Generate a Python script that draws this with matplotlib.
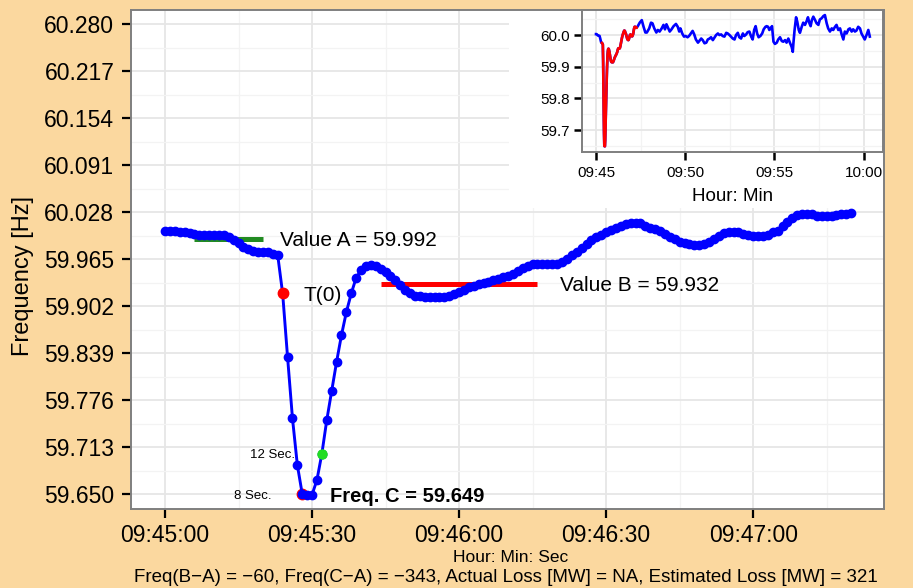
import matplotlib
matplotlib.use("Agg")
import matplotlib.pyplot as plt
from matplotlib.ticker import MultipleLocator, FixedLocator

plt.rcParams['font.family'] = ['Liberation Sans', 'DejaVu Sans']

BG = '#FBD89F'

# frequency, one sample per second starting at 09:45:00
freq = [
    60.003, 60.003, 60.003, 60.002, 60.001, 60.000, 59.999, 59.998, 59.998, 59.998,
    59.998, 59.998, 59.997, 59.994, 59.990, 59.986, 59.981, 59.978, 59.976, 59.975,
    59.975, 59.974, 59.972, 59.970, 59.919, 59.834, 59.752, 59.689, 59.650, 59.649,
    59.649, 59.669, 59.704, 59.749, 59.788, 59.827, 59.863, 59.894, 59.919, 59.940,
    59.950, 59.956, 59.957, 59.956, 59.952, 59.948, 59.942, 59.937, 59.930, 59.923,
    59.919, 59.916, 59.915, 59.914, 59.914, 59.914, 59.914, 59.914, 59.916, 59.918,
    59.921, 59.923, 59.927, 59.929, 59.931, 59.933, 59.935, 59.937, 59.938, 59.941,
    59.943, 59.945, 59.949, 59.953, 59.956, 59.958, 59.958, 59.958, 59.958, 59.958,
    59.958, 59.961, 59.965, 59.970, 59.975, 59.980, 59.985, 59.990, 59.994, 59.998,
    60.001, 60.004, 60.007, 60.010, 60.012, 60.014, 60.014, 60.013, 60.010, 60.007,
    60.005, 60.003, 59.999, 59.995, 59.992, 59.988, 59.986, 59.985, 59.984, 59.984,
    59.985, 59.988, 59.992, 59.996, 60.000, 60.001, 60.002, 60.001, 59.999, 59.997,
    59.996, 59.996, 59.996, 59.998, 60.001, 60.003, 60.009, 60.015, 60.020, 60.024,
    60.026, 60.026, 60.026, 60.023, 60.023, 60.023, 60.023, 60.024, 60.025, 60.026,
    60.027,
]
sec = list(range(len(freq)))

# rest of the record (only in the inset), seconds after 09:45:00
tail_sec = [
    147, 154, 160, 166, 171, 179, 185, 190, 196, 203,
    208, 214, 221, 227, 232, 237, 243, 248, 254, 261,
    269, 275, 280, 284, 290, 296, 301, 308, 313, 319,
    325, 330, 336, 343, 348, 354, 359, 365, 371, 376,
    382, 387, 393, 399, 404, 410, 415, 421, 426, 432,
    438, 443, 449, 454, 460, 466, 471, 477, 482, 488,
    494, 499, 505, 510, 516, 522, 527, 532, 537, 542,
    547, 553, 559, 564, 570, 574, 579, 583, 588, 592,
    597, 602, 608, 613, 619, 625, 630, 636, 641, 647,
    653, 658, 662, 664, 668, 673, 677, 682, 686, 692,
    697, 703, 709, 713, 718, 722, 726, 731, 737, 742,
    748, 753, 759, 765, 770, 776, 781, 787, 793, 798,
    804, 809, 815, 821, 826, 832, 837, 843, 849, 854,
    860, 865, 871, 876, 882, 888, 893, 899, 904, 910,
    916, 921,
]
tail_freq = [
    60.039, 60.047, 60.026, 60.008, 60.008, 60.021, 60.039, 60.037, 60.021, 60.008,
    60.016, 60.011, 60.021, 60.032, 60.018, 60.034, 60.021, 60.011, 60.018, 60.028,
    60.035, 60.026, 60.011, 60.021, 60.005, 59.995, 59.997, 59.993, 59.997, 60.005,
    60.013, 60.003, 59.986, 59.976, 59.982, 59.989, 59.984, 59.974, 59.976, 59.986,
    59.989, 59.993, 59.984, 59.993, 60.000, 60.005, 60.000, 60.002, 59.997, 59.995,
    60.007, 60.005, 60.000, 59.995, 59.989, 59.986, 60.000, 60.007, 59.993, 59.989,
    60.005, 59.997, 60.002, 60.009, 60.011, 59.995, 59.986, 60.016, 60.028, 60.005,
    59.993, 59.997, 60.005, 60.018, 60.026, 60.028, 60.026, 60.016, 60.021, 60.028,
    59.979, 59.972, 59.976, 59.986, 59.993, 59.981, 59.979, 59.984, 59.976, 59.989,
    59.974, 59.963, 59.947, 59.974, 60.016, 60.056, 60.042, 60.016, 60.007, 60.026,
    60.039, 60.032, 60.045, 60.056, 60.037, 60.028, 60.047, 60.058, 60.047, 60.037,
    60.032, 60.049, 60.053, 60.060, 60.063, 60.037, 60.021, 60.011, 60.021, 60.016,
    60.026, 60.032, 60.016, 60.021, 60.003, 59.986, 60.011, 60.005, 60.018, 60.021,
    60.011, 60.018, 60.011, 60.014, 60.026, 60.021, 60.005, 59.995, 59.986, 60.000,
    60.016, 59.995,
]

value_a = 59.992
value_a_span = (6, 20)
value_b = 59.932
value_b_span = (44, 76)
t0_sec = 24
sec8 = 28
sec12 = 32
freq_c = 59.649
red_span = (20, 136)   # part drawn red in the inset

freq_ticks = [59.650, 59.713, 59.776, 59.839, 59.902, 59.965,
              60.028, 60.091, 60.154, 60.217, 60.280]
time_ticks = [0, 30, 60, 90, 120]
time_labels = ['09:45:00', '09:45:30', '09:46:00', '09:46:30', '09:47:00']
inset_freq_ticks = [59.7, 59.8, 59.9, 60.0]
inset_min_ticks = [0, 5, 10, 15]
inset_min_labels = ['09:45', '09:50', '09:55', '10:00']
caption = ("Freq(B\u2212A) = \u221260, Freq(C\u2212A) = \u2212343, "
           "Actual Loss [MW] = NA, Estimated Loss [MW] = 321")

W, H = 913, 588
fig = plt.figure(figsize=(W / 100, H / 100), dpi=100, facecolor=BG)


def box(x0, y0, x1, y1):
    # pixel box (top-left origin) -> figure fraction
    return [x0 / W, 1 - y1 / H, (x1 - x0) / W, (y1 - y0) / H]


def style(ax, lw_tick, len_tick, size, pad):
    ax.set_facecolor('white')
    for sp in ax.spines.values():
        sp.set_color('#7F7F7F')
        sp.set_linewidth(1.4)
    ax.grid(which='major', color='#E6E6E6', lw=1.3)
    ax.grid(which='minor', color='#F3F3F3', lw=0.9)
    ax.set_axisbelow(True)
    ax.tick_params(which='major', length=len_tick, width=lw_tick, color='black',
                   labelsize=size, pad=pad, labelcolor='black')
    ax.tick_params(which='minor', length=0)


# main panel
ax = fig.add_axes(box(131, 10, 884, 509))
style(ax, 1.6, 6.5, 16.5, 5.5)
ax.tick_params(axis='x', pad=4)
ax.set_xlim(-6.94, 146.7)
ax.set_ylim(59.630, 60.299)
ax.set_yticks(freq_ticks)
ax.set_yticklabels(['%.3f' % v for v in freq_ticks])
ax.yaxis.set_minor_locator(FixedLocator(
    [(a + b) / 2 for a, b in zip(freq_ticks[:-1], freq_ticks[1:])]))
ax.set_xticks(time_ticks)
ax.set_xticklabels(time_labels)
ax.xaxis.set_minor_locator(MultipleLocator(15))

ax.hlines(value_a, *value_a_span, color='#228B22', lw=3.6, zorder=3)
ax.hlines(value_b, *value_b_span, color='red', lw=3.6, zorder=3)
ax.plot(sec8, freq[sec8], 'o', color='red', ms=7.5, zorder=3)
ax.plot(sec, freq, '-o', color='blue', lw=2.1, ms=6.0, zorder=4)
ax.plot(t0_sec, freq[t0_sec], 'o', color='red', ms=7.5, zorder=5)
ax.plot(sec12, freq[sec12], 'o', color='#22DD22', ms=6.5, zorder=5)

ax.text(23.5, value_a, 'Value A = %.3f' % value_a, fontsize=15, va='center_baseline')
ax.text(80.6, value_b, 'Value B = %.3f' % value_b, fontsize=15, va='center_baseline')
ax.text(28.2, freq[t0_sec], 'T(0)', fontsize=15, va='center_baseline')
ax.text(33.7, freq_c, 'Freq. C = %.3f' % freq_c, fontsize=14.5,
        fontweight='bold', va='center_baseline')
ax.text(sec12 - 10, freq[sec12], '12 Sec.', fontsize=9.5, ha='center',
        va='center_baseline')
ax.text(sec8 - 10, freq[sec8], '8 Sec.', fontsize=9.5, ha='center',
        va='center_baseline')

fig.text(23 / W, 1 - 276 / H, 'Frequency [Hz]', rotation=90, fontsize=17,
         ha='center', va='center')
fig.text(511 / W, 1 - 558 / H, 'Hour: Min: Sec', fontsize=12.5, ha='center', va='center')
fig.text(506 / W, 1 - 578 / H, caption, fontsize=13.5, ha='center', va='center')

# inset with the whole record
bg = fig.add_axes(box(509, 11, 883, 208))
bg.set_facecolor('white')
bg.set_xticks([])
bg.set_yticks([])
for sp in bg.spines.values():
    sp.set_visible(False)

ins = fig.add_axes(box(582, 10, 883, 152))
style(ins, 1.8, 6, 11, 3)
ins.tick_params(axis='x', pad=4)
all_min = [s / 60 for s in sec + tail_sec]
all_freq = freq + tail_freq
ins.plot(all_min, all_freq, color='blue', lw=1.9)
ins.plot([s / 60 for s in sec[red_span[0]:red_span[1] + 1]],
         freq[red_span[0]:red_span[1] + 1], color='red', lw=1.9)
ins.set_xlim(-0.785, 16.09)
ins.set_ylim(59.631, 60.079)
ins.set_yticks(inset_freq_ticks)
ins.set_yticklabels(['%.1f' % v for v in inset_freq_ticks])
ins.yaxis.set_minor_locator(MultipleLocator(0.05))
ins.set_xticks(inset_min_ticks)
ins.set_xticklabels(inset_min_labels)
ins.xaxis.set_minor_locator(MultipleLocator(2.5))
ins.set_xlabel('Hour: Min', fontsize=13.5, labelpad=6)

fig.savefig('out.png', dpi=100, facecolor=BG)
